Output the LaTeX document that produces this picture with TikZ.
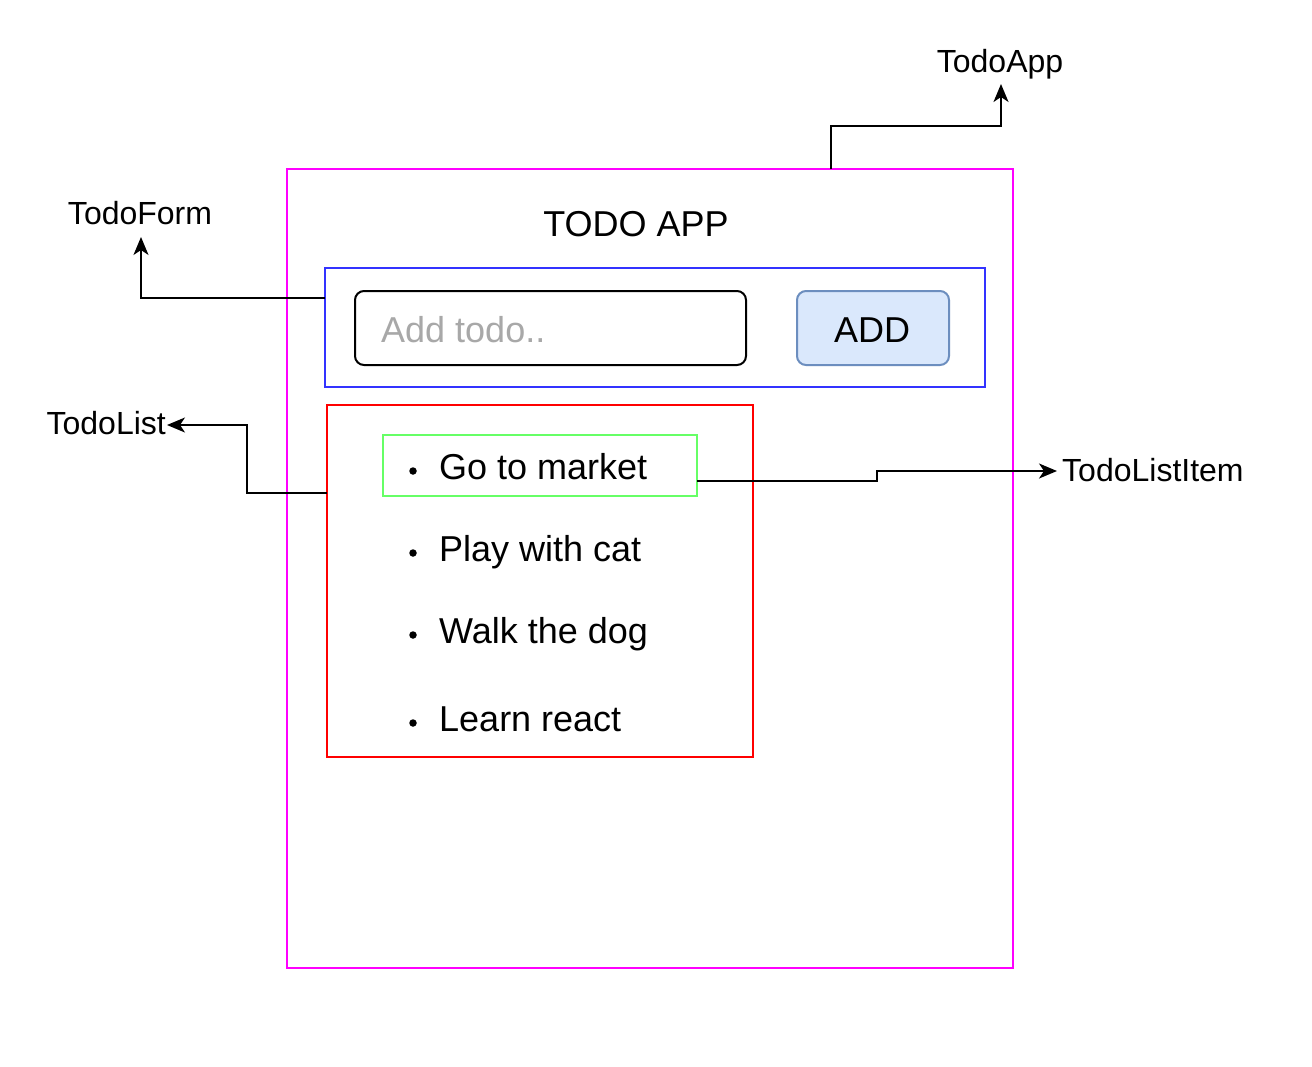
\documentclass[tikz,border=0pt]{standalone}
\usepackage{fontspec}
\setmainfont{Liberation Sans}
\usetikzlibrary{arrows.meta}
\definecolor{magentaC}{HTML}{FF00FF}
\definecolor{blueC}{HTML}{3333FF}
\definecolor{redC}{HTML}{FF0000}
\definecolor{greenC}{HTML}{66FF66}
\definecolor{addFill}{HTML}{DAE8FC}
\definecolor{addLine}{HTML}{6C8EBF}
\definecolor{hintC}{HTML}{A8A8A8}
\begin{document}
\begin{tikzpicture}[x=1pt,y=-1pt,
  box/.style={draw, line width=2pt, inner sep=0pt, outer sep=0pt},
  lbl/.style={font=\fontsize{32}{38}\selectfont, inner sep=0pt},
  big/.style={font=\fontsize{36}{43}\selectfont, inner sep=0pt},
  arr/.style={line width=2pt, -{Stealth[length=18pt,width=15pt,inset=5pt]}},
  bul/.style={fill=black, circle, inner sep=0pt, minimum size=7.5pt}]
\useasboundingbox (0,0) rectangle (1312,1066);
\fill[white] (0,0) rectangle (1312,1066);

% boxes
\node[box, draw=magentaC, minimum width=726pt, minimum height=799pt] (app) at (650,568.5) {};
\node[box, draw=blueC, minimum width=660pt, minimum height=119pt] (form) at (655,327.5) {};
\node[box, draw=black, rounded corners=9pt, minimum width=391pt, minimum height=74pt] (input) at (550.5,328) {};
\node[box, draw=addLine, fill=addFill, rounded corners=9pt, minimum width=152pt, minimum height=74pt] (add) at (873,328) {};
\node[box, draw=redC, minimum width=426pt, minimum height=352pt] (list) at (540,581) {};
\node[box, draw=greenC, minimum width=314pt, minimum height=61pt] (item) at (540,465.5) {};

% texts in boxes
\node[big, anchor=base] (title) at (636,236) {TODO APP};
\node[big, anchor=base west, text=hintC] (hint) at (381,342) {Add todo..};
\node[big, anchor=base] (addtxt) at (872,342) {ADD};
\node[big, anchor=base west] (t1) at (439,479) {Go to market};
\node[big, anchor=base west] (t2) at (439,561) {Play with cat};
\node[big, anchor=base west] (t3) at (439,643) {Walk the dog};
\node[big, anchor=base west] (t4) at (439,731) {Learn react};
\node[bul] (b1) at (413,471) {};
\node[bul] (b2) at (413,553) {};
\node[bul] (b3) at (413,635) {};
\node[bul] (b4) at (413,723) {};

% outer labels
\node[lbl, anchor=base] (lApp) at (1000,72) {TodoApp};
\node[lbl, anchor=base] (lForm) at (140,224) {TodoForm};
\node[lbl, anchor=base east] (lList) at (166,434) {TodoList};
\node[lbl, anchor=base west] (lItem) at (1062,481) {TodoListItem};

\coordinate (tipApp) at (1001,84);
\coordinate (tipForm) at (141,237);
\coordinate (tipList) at (167,425);
\coordinate (tipItem) at (1057,471);

% connectors
\draw[arr] ([xshift=544pt]app.north west) -- ++(0,-43) -| (tipApp);
\draw[arr] ([yshift=-30pt]form.north west) -| (tipForm);
\draw[arr] ([yshift=-88pt]list.north west) -- (247,493) |- (tipList);
\draw[arr] ([yshift=-15.5pt]item.east) -- (877,481) |- (tipItem);
\end{tikzpicture}
\end{document}
